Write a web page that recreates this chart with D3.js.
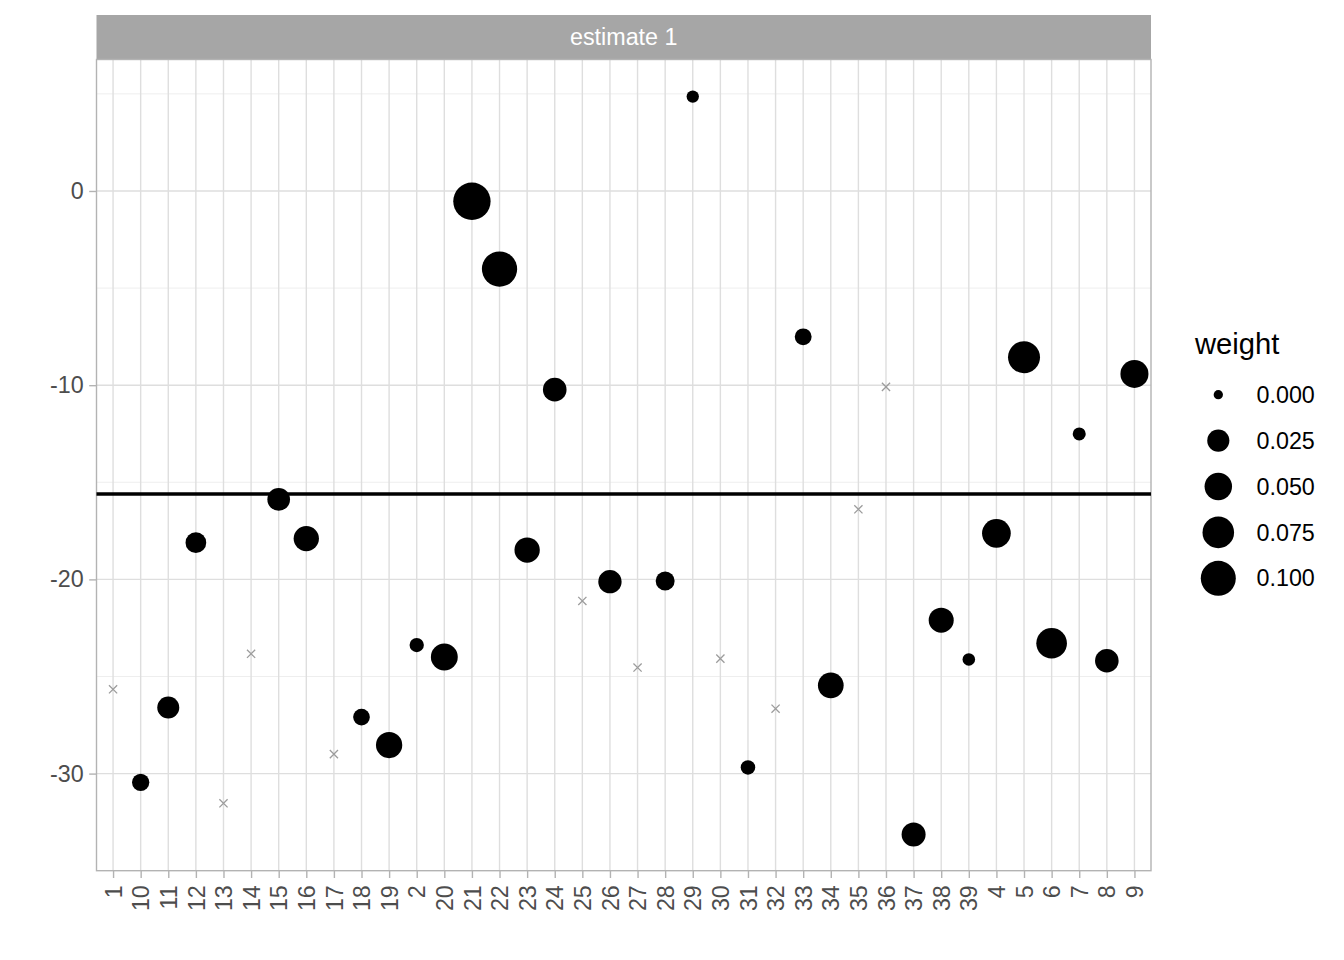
<!DOCTYPE html>
<html>
<head>
<meta charset="utf-8">
<script src="https://cdn.jsdelivr.net/npm/d3@7"></script>
<style>
  html, body { margin: 0; padding: 0; background: #fff; }
  svg { display: block; font-family: "Liberation Sans", Arial, Helvetica, sans-serif; }
</style>
</head>
<body>
<svg id="chart" width="1344" height="960"></svg>
<script>
// ---- data ----
const categories = ["1","10","11","12","13","14","15","16","17","18","19","2","20","21","22","23","24","25","26","27","28","29","30","31","32","33","34","35","36","37","38","39","4","5","6","7","8","9"];
const estimates = [-25.66,-30.45,-26.6,-18.11,-31.53,-23.83,-15.88,-17.9,-29.0,-27.09,-28.53,-23.38,-24.0,-0.53,-4.02,-18.49,-10.23,-21.11,-20.12,-24.54,-20.08,4.86,-24.08,-29.68,-26.66,-7.51,-25.46,-16.39,-10.09,-33.14,-22.10,-24.12,-17.63,-8.56,-23.29,-12.51,-24.19,-9.42];
const weights = [null,0.0097,0.0244,0.0197,null,null,0.027,0.0388,null,0.0083,0.0438,0.0038,0.047,0.119,0.102,0.0388,0.031,null,0.0297,null,0.0142,0.0014,null,0.0041,null,0.0087,0.0407,null,null,0.0327,0.0373,0.0016,0.057,0.078,0.069,0.0021,0.031,0.053];
const pooledEstimate = -15.6;
const yTicks = [0, -10, -20, -30];
const yMinor = [5, -5, -15, -25];
const yDomain = [-35.0, 6.77];
const legendValues = [0, 0.025, 0.05, 0.075, 0.1];
const stripLabel = "estimate 1";
const legendTitle = "weight";

// ---- layout ----
const svg = d3.select("#chart");
const P = { left: 96.5, right: 1151, top: 59.5, bottom: 870.7 };
const stripTop = 15;
const FS = 23.3;

const x = d3.scalePoint().domain(categories).range([P.left, P.right]).padding(0.6);
const y = d3.scaleLinear().domain(yDomain).range([P.bottom, P.top]);
const r = d3.scaleSqrt().domain([0, 0.1]).range([4.65, 17.5]);

const data = categories.map((c, i) => ({ cat: c, est: estimates[i], w: weights[i] }));

// strip
svg.append("rect").attr("x", P.left).attr("y", stripTop)
  .attr("width", P.right - P.left).attr("height", P.top - stripTop)
  .attr("fill", "#a6a6a6");
svg.append("text").attr("x", (P.left + P.right) / 2).attr("y", (stripTop + P.top) / 2)
  .attr("text-anchor", "middle").attr("dominant-baseline", "central")
  .attr("fill", "#ffffff").attr("font-size", FS).text(stripLabel);

// grid
const grid = svg.append("g");
grid.selectAll("line.minor").data(yMinor).join("line")
  .attr("x1", P.left).attr("x2", P.right)
  .attr("y1", d => y(d)).attr("y2", d => y(d))
  .attr("stroke", "#ececec").attr("stroke-width", 0.9);
grid.selectAll("line.majory").data(yTicks).join("line")
  .attr("x1", P.left).attr("x2", P.right)
  .attr("y1", d => y(d)).attr("y2", d => y(d))
  .attr("stroke", "#dedede").attr("stroke-width", 1.4);
grid.selectAll("line.majorx").data(categories).join("line")
  .attr("x1", d => x(d)).attr("x2", d => x(d))
  .attr("y1", P.top).attr("y2", P.bottom)
  .attr("stroke", "#dedede").attr("stroke-width", 1.4);

// axes
const yAxis = d3.axisLeft(y).tickValues(yTicks).tickSize(7.3).tickPadding(5.5).tickFormat(d3.format("d"));
const gy = svg.append("g").attr("transform", `translate(${P.left},0)`).call(yAxis);
gy.select(".domain").remove();
gy.selectAll(".tick line").attr("stroke", "#b3b3b3").attr("stroke-width", 1.4);
gy.selectAll(".tick text").attr("fill", "#4d4d4d").attr("font-size", FS)
  .attr("font-family", "Liberation Sans, Arial, sans-serif")
  .text(d => d < 0 ? "-" + Math.abs(d) : d);

const xAxis = d3.axisBottom(x).tickSize(7.3).tickPadding(0);
const gx = svg.append("g").attr("transform", `translate(0,${P.bottom})`).call(xAxis);
gx.select(".domain").remove();
gx.selectAll(".tick line").attr("stroke", "#b3b3b3").attr("stroke-width", 1.4);
gx.selectAll(".tick text")
  .attr("fill", "#4d4d4d").attr("font-size", FS)
  .attr("font-family", "Liberation Sans, Arial, sans-serif")
  .attr("text-anchor", "end")
  .attr("transform", "translate(0,14.5) rotate(-90)")
  .attr("x", 0).attr("y", 0).attr("dy", "0.35em");

// panel border
svg.append("rect").attr("x", P.left).attr("y", P.top)
  .attr("width", P.right - P.left).attr("height", P.bottom - P.top)
  .attr("fill", "none").attr("stroke", "#b3b3b3").attr("stroke-width", 1.4);

// points
const marks = svg.append("g");
marks.selectAll("circle").data(data.filter(d => d.w !== null)).join("circle")
  .attr("cx", d => x(d.cat)).attr("cy", d => y(d.est)).attr("r", d => r(d.w))
  .attr("fill", "#000");
const cs = 4.1;
marks.selectAll("path.na").data(data.filter(d => d.w === null)).join("path")
  .attr("d", d => {
    const cx = x(d.cat), cy = y(d.est);
    return `M${cx - cs},${cy - cs}L${cx + cs},${cy + cs}M${cx - cs},${cy + cs}L${cx + cs},${cy - cs}`;
  })
  .attr("stroke", "#9c9c9c").attr("stroke-width", 1.3).attr("fill", "none");

// hline
svg.append("line").attr("x1", P.left).attr("x2", P.right)
  .attr("y1", y(pooledEstimate)).attr("y2", y(pooledEstimate))
  .attr("stroke", "#000").attr("stroke-width", 3.4);

// legend
const lg = svg.append("g");
lg.append("text").attr("x", 1195).attr("y", 354).attr("font-size", 29.2)
  .attr("fill", "#000").text(legendTitle);
const ly = d3.scalePoint().domain(legendValues).range([394.7, 578.3]);
lg.selectAll("circle").data(legendValues).join("circle")
  .attr("cx", 1218.3).attr("cy", d => ly(d)).attr("r", d => r(d)).attr("fill", "#000");
lg.selectAll("text.lab").data(legendValues).join("text")
  .attr("class", "lab")
  .attr("x", 1256.5).attr("y", d => ly(d)).attr("dy", "0.35em")
  .attr("font-size", FS).attr("fill", "#000")
  .text(d => d3.format(".3f")(d));
</script>
</body>
</html>
